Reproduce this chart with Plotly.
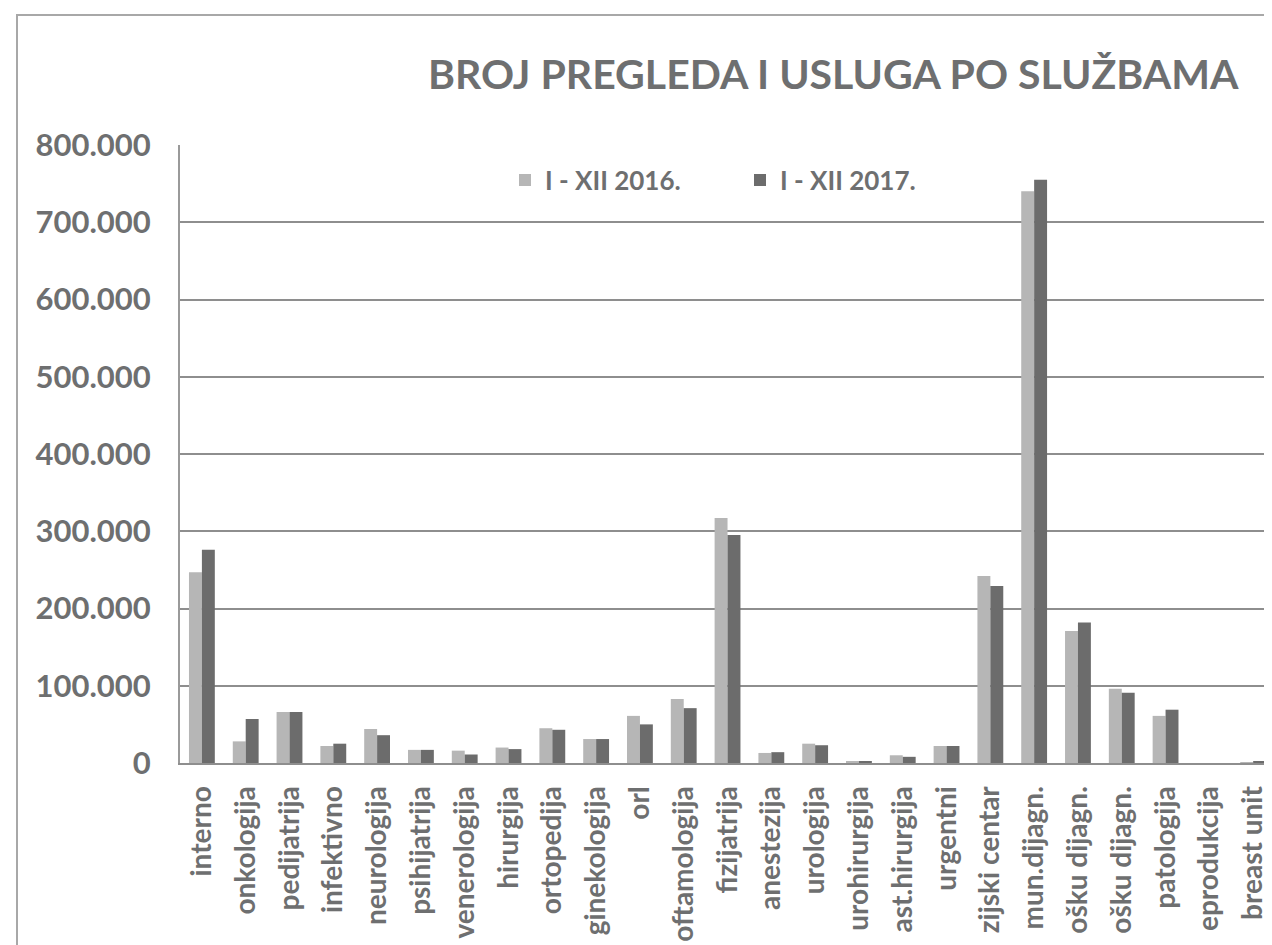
import plotly.graph_objects as go

categories = ["interno", "onkologija", "pedijatrija", "infektivno", "neurologija",
              "psihijatrija", "venerologija", "hirurgija", "ortopedija", "ginekologija",
              "orl", "oftamologija", "fizijatrija", "anestezija", "urologija",
              "urohirurgija", "ast.hirurgija", "urgentni", "zijski centar", "mun.dijagn.",
              "ošku dijagn.", "ošku dijagn.", "patologija", "eprodukcija", "breast unit"]

values_2016 = [247000, 28000, 66000, 22000, 44000, 17000, 16000, 20000, 45000, 31000,
               61000, 83000, 317000, 13000, 25000, 2000, 10000, 22000, 242000, 740000,
               171000, 96000, 61000, 0, 1000]
values_2017 = [276000, 57000, 66000, 25000, 36000, 17000, 11000, 18000, 43000, 31000,
               50000, 71000, 295000, 14000, 23000, 2000, 8000, 22000, 229000, 755000,
               182000, 91000, 69000, 0, 1500]

series_names = ["I - XII 2016.", "I - XII 2017."]
y_tick_values = [0, 100000, 200000, 300000, 400000, 500000, 600000, 700000, 800000]
y_tick_labels = ["0", "100.000", "200.000", "300.000", "400.000", "500.000",
                 "600.000", "700.000", "800.000"]
title_text = "BROJ PREGLEDA I USLUGA PO SLUŽBAMA"

positions = list(range(len(categories)))
TEXT = "#6e6f70"
GRID = "#8e8e8e"
FONT = "Lato, 'Open Sans', sans-serif"

fig = go.Figure()
fig.add_trace(go.Bar(x=positions, y=values_2016, name=series_names[0],
                     marker=dict(color="#b6b6b6", line=dict(width=0))))
fig.add_trace(go.Bar(x=positions, y=values_2017, name=series_names[1],
                     marker=dict(color="#6c6c6c", line=dict(width=0))))

# page has an 8px body margin; work in page pixel coordinates
OFF = 8
W, H = 1272 - OFF, 945 - OFF
L = 180 - OFF
T = 145 - OFF
B = H - (763 - OFF)
plot_w = W - L
plot_h = H - T - B

def px_x(p):
    return (p - OFF - L) / plot_w

def px_y(p):
    return (H - B - (p - OFF)) / plot_h

fig.update_layout(
    width=W, height=H,
    margin=dict(l=L, r=0, t=T, b=B, autoexpand=False),
    paper_bgcolor="white", plot_bgcolor="white",
    barmode="group", bargap=0.41, bargroupgap=0,
    font=dict(family=FONT, color=TEXT),
    showlegend=True,
    legend=dict(orientation="h", x=px_x(505), y=px_y(180), xanchor="left", yanchor="middle",
                font=dict(size=26, family=FONT, color=TEXT, weight="bold"),
                bgcolor="rgba(0,0,0,0)", entrywidth=190, entrywidthmode="pixels",
                itemsizing="constant", itemwidth=30),
    xaxis=dict(range=[-0.5, 24.43], tickmode="array", tickvals=positions, ticktext=categories,
               tickangle=-90, showgrid=False, zeroline=False,
               showline=True, linecolor=GRID, linewidth=2,
               ticks="", ticklabelstandoff=10,
               tickfont=dict(size=28, family=FONT, color=TEXT, weight="bold"),
               automargin=False),
    yaxis=dict(range=[0, 800000], tickmode="array", tickvals=y_tick_values, ticktext=y_tick_labels,
               showgrid=True, gridcolor=GRID, gridwidth=2, zeroline=False,
               showline=True, linecolor="#9a9a9a", linewidth=2,
               ticks="", ticklabelstandoff=21,
               tickfont=dict(size=31, family=FONT, color=TEXT, weight="bold"),
               automargin=False),
    annotations=[dict(text=title_text, xref="paper", yref="paper",
                      x=px_x(1241), y=px_y(73), xanchor="right", yanchor="middle",
                      showarrow=False,
                      font=dict(size=41, family=FONT, color=TEXT, weight="bold"))],
    shapes=[dict(type="rect", xref="paper", yref="paper",
                 x0=px_x(17), y0=px_y(15), x1=px_x(1300), y1=px_y(1000),
                 line=dict(color="#a8a8a8", width=2), fillcolor="rgba(0,0,0,0)",
                 layer="below")],
)

fig.write_html("out.html")
